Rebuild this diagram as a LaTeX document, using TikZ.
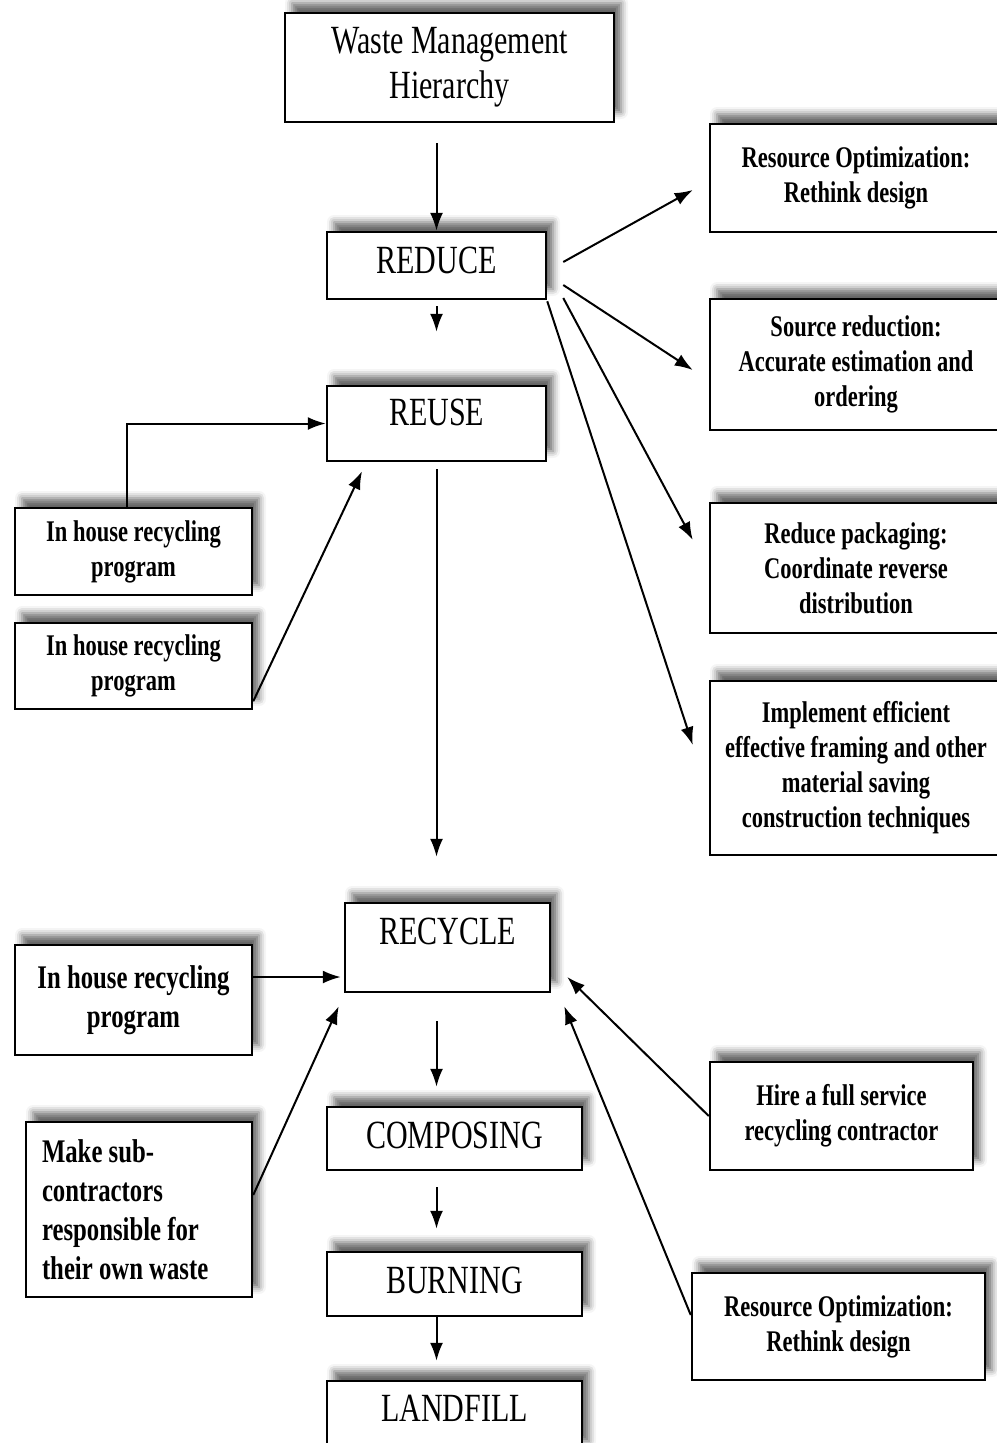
\documentclass[tikz,border=0pt]{standalone}
\usepackage{fontspec}
\setmainfont{Liberation Serif}[FakeStretch=0.75]
\usetikzlibrary{arrows.meta,shadows.blur}

\begin{document}
\begin{tikzpicture}[x=1pt, y=-1pt, >={Latex[length=18pt,width=13pt]},
    box/.style={draw, line width=2.5pt, fill=white, inner sep=0pt,
        blur shadow={shadow xshift=7pt, shadow yshift=10pt, shadow blur radius=7pt, shadow opacity=60}},
    big/.style={box, align=center, font=\fontsize{40}{45}\selectfont},
    small/.style={box, align=center, font=\bfseries\fontsize{30}{35}\selectfont},
    large/.style={box, font=\bfseries\fontsize{33}{39}\selectfont},
    link/.style={->, line width=2pt}]
\useasboundingbox (0,0) rectangle (996,1443);

% main chain
\node[big, minimum width=329, minimum height=109] (waste) at (449.5,67.5) {Waste Management\\Hierarchy};
\node[big, minimum width=219, minimum height=67, text depth=11pt] (reduce) at (436.5,265.5) {REDUCE};
\node[big, minimum width=219, minimum height=75, text depth=23pt] (reuse) at (436.5,423.5) {REUSE};
\node[big, minimum width=205, minimum height=89, text depth=33pt] (recycle) at (447.5,947.5) {RECYCLE};
\node[big, minimum width=255, minimum height=63, text depth=6pt] (composing) at (454.5,1138.5) {COMPOSING};
\node[big, minimum width=255, minimum height=64, text depth=8pt] (burning) at (454.5,1284) {BURNING};
\node[big, minimum width=255, minimum height=70, text depth=16pt] (landfill) at (454.5,1416) {LANDFILL};

% reduce options
\node[small, minimum width=292, minimum height=108] (rethink) at (856,178) {Resource Optimization:\\Rethink design};
\node[small, minimum width=292, minimum height=131] (source) at (856,364.5) {Source reduction:\\Accurate estimation and\\ordering};
\node[small, minimum width=292, minimum height=130] (packaging) at (856,568) {Reduce packaging:\\Coordinate reverse\\distribution};
\node[small, minimum width=292, minimum height=174] (framing) at (856,768) {Implement efficient\\effective framing and other\\material saving\\construction techniques};

% reuse options
\node[small, minimum width=237, minimum height=87] (inhouseA) at (133.5,551.5) {In house recycling\\program};
\node[small, minimum width=237, minimum height=86] (inhouseB) at (133.5,666) {In house recycling\\program};

% recycle options
\node[large, align=center, minimum width=237, minimum height=110] (inhouseC) at (133.5,1000) {In house recycling\\program};
\node[large, align=flush left, text width=194, minimum width=226, minimum height=175] (subcon) at (139,1209.5) {Make sub-\\contractors\\responsible for\\their own waste};
\node[small, minimum width=263, minimum height=108] (hire) at (841.5,1116) {Hire a full service\\recycling contractor};
\node[small, minimum width=293, minimum height=107] (rethinkB) at (838.5,1326.5) {Resource Optimization:\\Rethink design};

% vertical arrows
\draw[link, shorten <=20pt] (reduce.north |- waste.south) -- (reduce.north);
\draw[link, shorten <=6pt, shorten >=53pt] (reduce.south) -- (reuse.north);
\draw[link, shorten <=7pt, shorten >=45pt] (reuse.south) -- (reuse.south |- recycle.north);
\draw[link, shorten <=28pt, shorten >=19pt] (reduce.south |- recycle.south) -- (reduce.south |- composing.north);
\draw[link, shorten <=16pt, shorten >=22pt] (reduce.south |- composing.south) -- (reduce.south |- burning.north);
\draw[link, shorten >=19pt] (reduce.south |- burning.south) -- (reduce.south |- landfill.north);

% from reduce
\draw[link] ([shift={(16,-3.5)}]reduce.east) -- ([shift={(-16,12)}]rethink.west);
\draw[link] ([shift={(16,19.5)}]reduce.east) -- ([shift={(-16,5.5)}]source.west);
\draw[link] ([shift={(16,32.5)}]reduce.east) -- ([shift={(-16,-28)}]packaging.west);
\draw[link] ([shift={(0,1)}]reduce.south east) -- ([shift={(-16,-23)}]framing.west);

% into reuse
\draw[link] ([xshift=-6.5pt]inhouseA.north) |- (reuse.west);
\draw[link] ([shift={(0,-9)}]inhouseB.south east) -- ([shift={(-74.5,9)}]reuse.south);

% into recycle
\draw[link, shorten >=3pt] ([shift={(0,-23)}]inhouseC.east) -- ([shift={(0,-23)}]inhouseC.east -| recycle.west);
\draw[link] ([shift={(0,-14.5)}]subcon.east) -- ([shift={(-5,13)}]recycle.south west);
\draw[link] (hire.west) -- ([shift={(16,29.5)}]recycle.east);
\draw[link] ([shift={(0,-11.5)}]rethinkB.west) -- ([shift={(13,13)}]recycle.south east);

\end{tikzpicture}
\end{document}
